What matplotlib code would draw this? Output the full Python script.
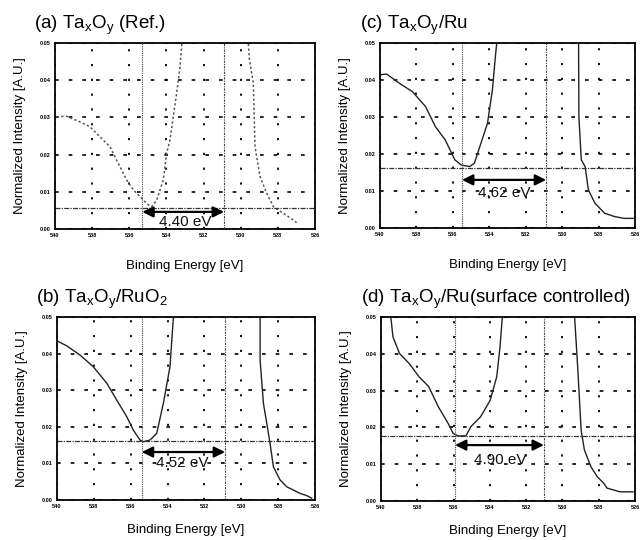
import numpy as np
import matplotlib.pyplot as plt

plt.rcParams['font.family'] = ['Liberation Sans', 'DejaVu Sans']
plt.rcParams['mathtext.default'] = 'regular'

# binding energy (eV) / normalized intensity
nan = np.nan
e_a = [539.91, 539.37, 538.65, 538.12, 537.58, 537.04, 536.68, 536.14, 535.78, 535.42,
       535.15, 534.97, 534.79, 534.52, 534.17, 533.99, 533.81, 533.63, 533.45, 533.27,
       533.15, nan, 529.6, 529.54, 529.32, 529.23, 528.96, 528.60, 528.24, 527.70, 527.17, 526.99]
i_a = [0.0302, 0.0303, 0.0288, 0.0275, 0.0248, 0.0221, 0.0185, 0.0132, 0.0105, 0.0087,
       0.0073, 0.0065, 0.0060, 0.0078, 0.0132, 0.0203, 0.0239, 0.0302, 0.0365, 0.0436,
       0.0510, nan, 0.0510, 0.0459, 0.0392, 0.0221, 0.0141, 0.0096, 0.0060, 0.0042, 0.0024, 0.0017]

e_b = [539.93, 539.47, 538.75, 538.03, 537.30, 536.76, 536.22, 535.86, 535.50, 535.32,
       534.95, 534.59, 534.23, 533.87, 533.69, 533.60, nan, 528.98, 528.98, 528.80, 528.62,
       528.44, 528.26, 527.90, 527.53, 527.17, 526.81, 526.45, 526.18]
i_b = [0.0433, 0.0421, 0.0396, 0.0364, 0.0319, 0.0273, 0.0228, 0.0191, 0.0164, 0.0159,
       0.0164, 0.0182, 0.0264, 0.0364, 0.0496, 0.0510, nan, 0.0510, 0.0383, 0.0264, 0.0210,
       0.0155, 0.0091, 0.0055, 0.0036, 0.0027, 0.0018, 0.0012, 0.0005]

e_c = [540.0, 539.64, 538.93, 538.21, 537.50, 536.96, 536.42, 535.89, 535.53, 535.08,
       534.82, 534.46, 534.10, 533.83, 533.65, 533.57, nan, 529.10, 529.08, 528.95, 528.74,
       528.56, 528.20, 527.67, 527.13, 526.60, 526.06]
i_c = [0.0414, 0.0416, 0.0391, 0.0368, 0.0328, 0.0274, 0.0238, 0.0184, 0.0170, 0.0166,
       0.0175, 0.0229, 0.0283, 0.0373, 0.0472, 0.0510, nan, 0.0510, 0.0300, 0.0184, 0.0166,
       0.0103, 0.0067, 0.0040, 0.0031, 0.0026, 0.0026]

e_d = [539.46, 539.34, 538.98, 538.45, 537.91, 537.37, 536.84, 536.30, 536.03, 535.76,
       535.32, 535.05, 534.51, 533.98, 533.62, 533.44, 533.31, nan, 529.33, 529.15, 528.97,
       528.79, 528.43, 528.08, 527.72, 527.54, 527.18, 526.83, 526.11]
i_d = [0.0501, 0.0446, 0.0401, 0.0374, 0.0338, 0.0311, 0.0256, 0.0211, 0.0184, 0.0177,
       0.0177, 0.0202, 0.0229, 0.0274, 0.0338, 0.0419, 0.0501, nan, 0.0501, 0.0356, 0.0193,
       0.0139, 0.0093, 0.0066, 0.0048, 0.0035, 0.0030, 0.0025, 0.0025]

titles = [r'(a) Ta$_x$O$_y$ (Ref.)', r'(b) Ta$_x$O$_y$/RuO$_2$',
          r'(c) Ta$_x$O$_y$/Ru', r'(d) Ta$_x$O$_y$/Ru(surface controlled)']
gap_labels = ['4.40 eV', '4.52 eV', '4.62 eV', '4.90 eV']
edges = [(535.3, 530.9), (535.4, 530.88), (535.5, 530.88), (535.92, 531.02)]
baselines = [0.0057, 0.0161, 0.0162, 0.0177]
arrow_y = [0.0046, 0.0131, 0.0130, 0.0152]
label_pos = [(533.0, 0.0019), (533.2, 0.0101), (533.2, 0.0095), (533.4, 0.0111)]

energies = [e_a, e_b, e_c, e_d]
intens = [i_a, i_b, i_c, i_d]
x_ticks = [540, 538, 536, 534, 532, 530, 528, 526]
y_ticks = [0.00, 0.01, 0.02, 0.03, 0.04, 0.05]

# axes boxes in figure fraction
boxes = [[0.0859, 0.5759, 0.4063, 0.3444],
         [0.0891, 0.0741, 0.4031, 0.3389],
         [0.5938, 0.5778, 0.3984, 0.3426],
         [0.5953, 0.0722, 0.3969, 0.3407]]
xpads = [16, 11, 16, 11]

fig = plt.figure(figsize=(6.4, 5.4), dpi=100)

for k in range(4):
    ax = fig.add_axes(boxes[k])
    ax.set_xlim(540, 526)
    ax.set_ylim(0, 0.05)
    ax.set_xticks(x_ticks)
    ax.set_yticks(y_ticks)
    ax.set_xticklabels([str(t) for t in x_ticks], fontsize=4, fontweight='bold')
    ax.set_yticklabels(['%.2f' % t for t in y_ticks], fontsize=4, fontweight='bold')
    ax.tick_params(length=0, pad=3)
    ax.xaxis.grid(True, color='k', linestyle=(0, (1.2, 7)), linewidth=1.3)
    ax.yaxis.grid(True, color='k', linestyle=(0, (2.2, 6)), linewidth=1.2)
    for s in ax.spines.values():
        s.set_linewidth(1.3)

    if k == 0:
        ax.plot(energies[k], intens[k], color='#555555', lw=1.1, linestyle=(0, (1.5, 1.5)))
    else:
        ax.plot(energies[k], intens[k], color='#222222', lw=1.0)

    lo, hi = edges[k]
    ax.axvline(lo, color='#444444', lw=0.8, linestyle=(0, (1, 1)))
    ax.axvline(hi, color='#444444', lw=0.8, linestyle=(0, (2, 1, 1, 1)))
    ax.axhline(baselines[k], color='#333333', lw=0.9, linestyle=(0, (4, 1, 1, 1)))
    ax.annotate('', xy=(hi, arrow_y[k]), xytext=(lo, arrow_y[k]),
                arrowprops=dict(arrowstyle='<|-|>', color='k', lw=1.6,
                                mutation_scale=16, shrinkA=0, shrinkB=0))
    ax.text(label_pos[k][0], label_pos[k][1], gap_labels[k], ha='center', va='center',
            fontsize=11, color='#111111')

    ax.set_xlabel('Binding Energy [eV]', fontsize=9.5, labelpad=xpads[k])
    ax.set_ylabel('Normalized Intensity [A.U.]', fontsize=9.5, labelpad=10)
    ax.text(-0.08, 1.035, titles[k], transform=ax.transAxes, fontsize=13.5,
            ha='left', va='bottom')

fig.savefig('out.png', dpi=100)
